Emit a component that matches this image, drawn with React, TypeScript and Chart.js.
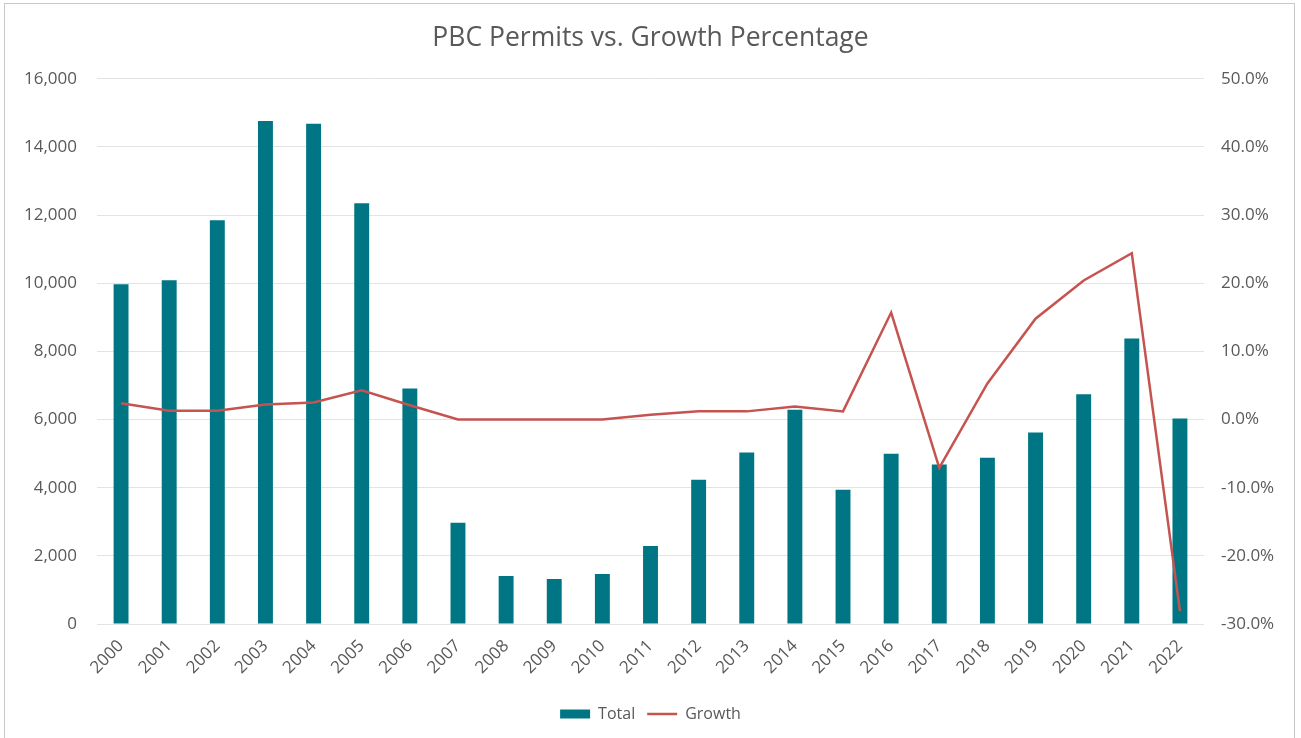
import React, { useEffect, useRef } from "react";
import { Chart, registerables } from "chart.js";

Chart.register(...registerables);

const years = ["2000","2001","2002","2003","2004","2005","2006","2007","2008","2009","2010","2011","2012","2013","2014","2015","2016","2017","2018","2019","2020","2021","2022"];
const totals = [9970, 10090, 11850, 14760, 14680, 12350, 6910, 2970, 1410, 1320, 1470, 2290, 4235, 5030, 6290, 3940, 5000, 4680, 4880, 5620, 6740, 8380, 6030];
const growth = [0.024, 0.013, 0.013, 0.022, 0.025, 0.043, 0.021, 0.0, 0.0, 0.0, 0.0, 0.007, 0.012, 0.012, 0.019, 0.012, 0.157, -0.071, 0.053, 0.148, 0.204, 0.244, -0.281];
const leftTicks = [0, 2000, 4000, 6000, 8000, 10000, 12000, 14000, 16000];
const rightTicks = [-0.3, -0.2, -0.1, 0, 0.1, 0.2, 0.3, 0.4, 0.5];

const TEXT = "#595959";
const GRID = "#e3e3e3";
const FONT = "'Open Sans', sans-serif";

export default function App() {
  const ref = useRef<HTMLCanvasElement | null>(null);
  useEffect(() => {
    if (!ref.current) return;
    const chart = new Chart(ref.current, {
      data: {
        labels: years,
        datasets: [
          {
            type: "bar",
            label: "Total",
            data: totals,
            backgroundColor: "#007685",
            borderWidth: 0,
            barPercentage: 0.31,
            categoryPercentage: 1,
            yAxisID: "y",
            order: 2,
            pointStyle: "rect",
          } as any,
          {
            type: "line",
            label: "Growth",
            data: growth,
            borderColor: "#C55451",
            backgroundColor: "#C55451",
            borderWidth: 2.5,
            pointRadius: 0,
            pointStyle: "line",
            tension: 0,
            yAxisID: "y1",
            order: 1,
          } as any,
        ],
      },
      options: {
        animation: false,
        responsive: true,
        maintainAspectRatio: false,
        layout: { padding: { top: 0, bottom: 6, left: 0, right: 0 } },
        plugins: {
          title: {
            display: true,
            text: "PBC Permits vs. Growth Percentage",
            color: TEXT,
            font: { family: FONT, size: 26.5, weight: "normal" },
            padding: { top: 23, bottom: 24 },
          },
          legend: {
            position: "bottom",
            labels: {
              usePointStyle: true,
              pointStyleWidth: 30,
              boxWidth: 30,
              boxHeight: 9,
              color: TEXT,
              font: { family: FONT, size: 16 },
              padding: 12,
              sort: (a: any, b: any) => a.datasetIndex - b.datasetIndex,
            },
          },
          tooltip: { enabled: false },
        },
        scales: {
          x: {
            grid: { display: false },
            border: { display: false },
            ticks: {
              color: TEXT,
              font: { family: FONT, size: 17 },
              minRotation: 45,
              maxRotation: 45,
              padding: 4,
            },
            afterFit: (s: any) => { s.height = 70; },
          },
          y: {
            position: "left",
            min: 0,
            max: 16000,
            afterBuildTicks: (s: any) => { s.ticks = leftTicks.map((v) => ({ value: v })); },
            grid: { color: GRID, lineWidth: 1, drawTicks: false },
            border: { display: false },
            ticks: {
              color: TEXT,
              font: { family: FONT, size: 17 },
              padding: 20,
              callback: (v: any) => Number(v).toLocaleString("en-US"),
            },
            afterFit: (s: any) => { s.width = 97; },
          },
          y1: {
            position: "right",
            min: -0.3,
            max: 0.5,
            afterBuildTicks: (s: any) => { s.ticks = rightTicks.map((v) => ({ value: v })); },
            grid: { drawOnChartArea: false, drawTicks: false },
            border: { display: false },
            ticks: {
              color: TEXT,
              font: { family: FONT, size: 17 },
              padding: 17,
              callback: (v: any) => (Number(v) * 100).toFixed(1) + "%",
            },
            afterFit: (s: any) => { s.width = 97; },
          },
        },
      } as any,
    });
    return () => chart.destroy();
  }, []);
  return (
    <div style={{ position: "fixed", left: 0, top: 0, width: 1301, height: 738, background: "#fff" }}>
      <div style={{ position: "absolute", left: 4, top: 3, width: 1291, height: 740, border: "1px solid #c8c8c8", boxSizing: "border-box" }} />
      <canvas ref={ref} style={{ position: "absolute", left: 0, top: 0 }} />
    </div>
  );
}
